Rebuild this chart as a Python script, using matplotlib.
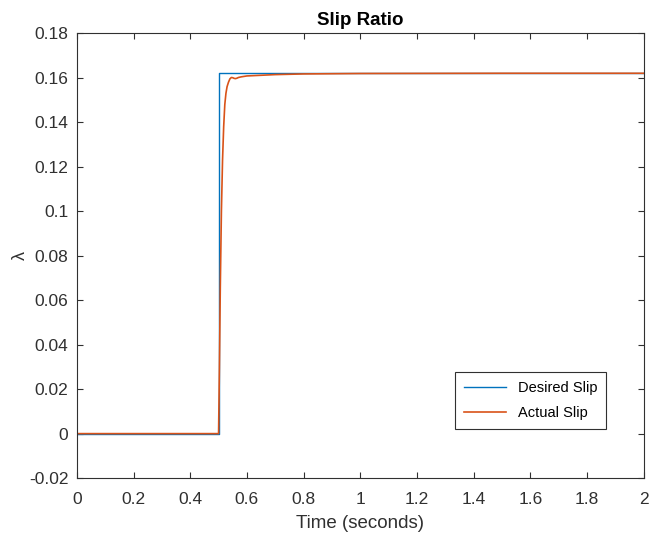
import numpy as np
import matplotlib.pyplot as plt

plt.rcParams['font.family'] = ['Liberation Sans', 'DejaVu Sans']

# desired slip: step at t = 0.5 s
t_des = [0, 0.5, 0.5, 2.0]
lam_des = [0, 0, 0.162, 0.162]

# actual slip response
t_act = [0, 0.5, 0.503, 0.506, 0.51, 0.514, 0.518, 0.522, 0.526, 0.53, 0.535,
         0.54, 0.545, 0.55, 0.555, 0.56, 0.565, 0.57, 0.58, 0.6, 0.65, 0.7,
         0.8, 1.0, 1.5, 2.0]
lam_act = [0, 0, 0.03, 0.065, 0.1, 0.123, 0.138, 0.148, 0.153, 0.156, 0.158,
           0.1595, 0.1601, 0.1600, 0.1597, 0.1596, 0.1598, 0.1601, 0.1604,
           0.1608, 0.1611, 0.1614, 0.1617, 0.1619, 0.162, 0.162]

fig = plt.figure(figsize=(6.51, 5.36), dpi=100)
ax = fig.add_axes([0.118, 0.108, 0.871, 0.830])

ax.plot(t_des, lam_des, color='#0072BD', lw=1.0, label='Desired Slip')
ax.plot(t_act, lam_act, color='#D95319', lw=1.2, label='Actual Slip')

ax.set_xlim(0, 2)
ax.set_ylim(-0.02, 0.18)
ax.set_xticks(np.arange(0, 2.01, 0.2))
ax.set_xticklabels(['0', '0.2', '0.4', '0.6', '0.8', '1', '1.2', '1.4', '1.6', '1.8', '2'])
ax.set_yticks(np.arange(-0.02, 0.181, 0.02))
ax.set_yticklabels(['-0.02', '0', '0.02', '0.04', '0.06', '0.08', '0.1',
                    '0.12', '0.14', '0.16', '0.18'])

gray = '#303030'
for s in ax.spines.values():
    s.set_color(gray)
    s.set_linewidth(0.8)
ax.tick_params(direction='in', top=True, right=True, length=4, width=0.8,
               colors=gray, labelsize=12.5)
ax.tick_params(axis='x', pad=10)
ax.tick_params(axis='y', pad=6)

ax.set_title('Slip Ratio', fontsize=13.5, fontweight='bold', color='black', pad=6)
ax.set_xlabel('Time (seconds)', fontsize=13.5, color=gray, labelpad=6)
ax.set_ylabel('λ', fontsize=13, color=gray)
ax.yaxis.set_label_coords(-0.085, 0.5)

leg = ax.legend(loc='lower right', bbox_to_anchor=(0.933, 0.11), borderaxespad=0,
                fontsize=10.5, fancybox=False, edgecolor=gray, framealpha=1,
                handlelength=2.9, borderpad=0.6, labelspacing=0.8)
leg.get_frame().set_linewidth(0.8)

fig.savefig('out.png', dpi=100)
